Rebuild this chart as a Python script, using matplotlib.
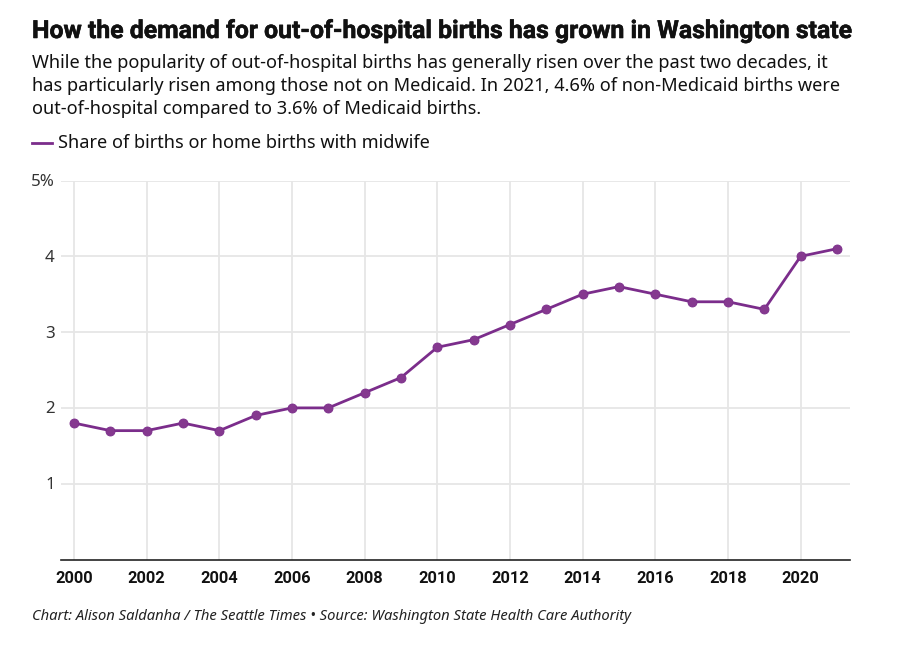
import matplotlib
matplotlib.use("Agg")
import matplotlib.pyplot as plt
import matplotlib.patheffects as pe
from matplotlib.lines import Line2D
from matplotlib.transforms import ScaledTranslation

years = list(range(2000, 2022))
share = [1.8, 1.7, 1.7, 1.8, 1.7, 1.9, 2.0, 2.0, 2.2, 2.4, 2.8, 2.9, 3.1, 3.3, 3.5, 3.6, 3.5, 3.4, 3.4, 3.3, 4.0, 4.1]
y_ticks = [1, 2, 3, 4, 5]
y_labels = ["1", "2", "3", "4", "5%"]
x_ticks = list(range(2000, 2021, 2))

title = "How the demand for out-of-hospital births has grown in Washington state"
subtitle = ["While the popularity of out-of-hospital births has generally risen over the past two decades, it",
            "has particularly risen among those not on Medicaid. In 2021, 4.6% of non-Medicaid births were",
            "out-of-hospital compared to 3.6% of Medicaid births."]
legend_label = "Share of births or home births with midwife"
footer = "Chart: Alison Saldanha / The Seattle Times • Source: Washington State Health Care Authority"

W, H = 900, 651
PURPLE = "#7b2d8b"
plt.rcParams["font.family"] = ["Noto Sans", "DejaVu Sans"]
fig = plt.figure(figsize=(W / 100, H / 100), dpi=100, facecolor="white")
ax = fig.add_axes([61 / W, 1 - 559.5 / H, (850 - 61) / W, (559.5 - 180.5) / H])
ax.set_xlim(2000 - 13 / 36.33, 2021 + 13 / 36.33)
ax.set_ylim(0, 5)
ax.grid(True, color="#e6e6e6", lw=1.3)
ax.set_axisbelow(True)
for s in ["top", "right", "left"]:
    ax.spines[s].set_visible(False)
ax.spines["bottom"].set_color("#222222")
ax.spines["bottom"].set_linewidth(1.2)
ax.set_yticks(y_ticks, y_labels)
ax.set_xticks(x_ticks, [str(v) for v in x_ticks])
ax.tick_params(axis="y", length=0, pad=4.5, labelsize=12.2, labelcolor="#333333")
ax.tick_params(axis="x", length=0, pad=8.5, labelsize=11.8)
for t in ax.get_xticklabels():
    t.set_fontfamily("Roboto")
    t.set_fontweight("bold")
    t.set_color("#111111")
for t in ax.get_yticklabels():
    t.set_va("center")
    t.set_transform(t.get_transform() + ScaledTranslation(0, -1.5 / 100, fig.dpi_scale_trans))
ax.plot(years, share, color=PURPLE, lw=2, marker="o", ms=6.5, mfc="#85398f", mec=PURPLE, mew=0.6, clip_on=False, zorder=3)

fig.text(32 / W, 1 - 31 / H, title, fontsize=17.85, fontweight="bold", family="Roboto", color="#111111", va="center",
         path_effects=[pe.withStroke(linewidth=0.4, foreground="#111111")])
for i, line in enumerate(subtitle):
    fig.text(32 / W, 1 - (62.5 + 23.2 * i) / H, line, fontsize=13.1, color="#111111", va="center")
fig.add_artist(Line2D([32 / W, 52 / W], [1 - 143 / H] * 2, color=PURPLE, lw=2))
fig.text(58 / W, 1 - 143 / H, legend_label, fontsize=13.07, color="#111111", va="center")
fig.text(32 / W, 1 - 616 / H, footer, fontsize=10.63, style="italic", color="#222222", va="center")
fig.savefig("out.png", dpi=100)
